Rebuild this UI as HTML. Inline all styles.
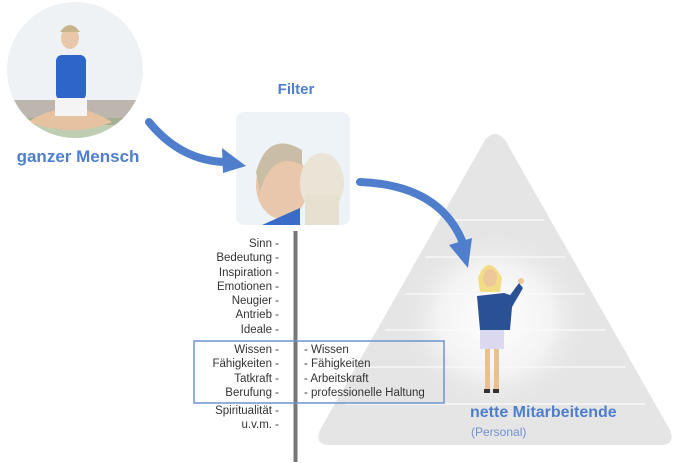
<!DOCTYPE html>
<html><head><meta charset="utf-8"><style>
body{margin:0;width:674px;height:463px;background:#fff;position:relative;overflow:hidden;font-family:"Liberation Sans",sans-serif}
.t{position:absolute;font-size:11.5px;color:#333;line-height:14.3px}
.l{right:395px;text-align:right;white-space:nowrap}
</style></head><body>
<svg width="674" height="463" style="position:absolute;left:0;top:0">
<defs>
<radialGradient id="g" cx="0.5" cy="0.5" r="0.5"><stop offset="0" stop-color="#fff"/><stop offset="0.6" stop-color="#f3f3f3"/><stop offset="1" stop-color="#e5e5e5" stop-opacity="0"/></radialGradient>
<clipPath id="cc"><circle cx="75" cy="70" r="68"/></clipPath>
<clipPath id="fc"><rect x="236" y="112" width="114" height="113" rx="8"/></clipPath>
</defs>
<path d="M485,140 Q495,128 505,140 L670,430 Q676,445 660,445 L330,445 Q314,445 320,430 Z" fill="#e5e5e5"/>
<ellipse cx="495" cy="320" rx="95" ry="90" fill="url(#g)"/>
<g stroke="#fafafa" stroke-width="1.2">
<line x1="455" y1="220" x2="544" y2="220"/><line x1="425" y1="257" x2="565" y2="257"/>
<line x1="405" y1="294" x2="585" y2="294"/><line x1="385" y1="330" x2="605" y2="330"/>
<line x1="365" y1="367" x2="625" y2="367"/><line x1="345" y1="404" x2="645" y2="404"/>
</g>
<!-- circle photo -->
<g clip-path="url(#cc)">
<rect x="0" y="0" width="150" height="140" fill="#eef2f5"/>
<rect x="0" y="100" width="150" height="25" fill="#8a7a6a" opacity="0.5"/>
<rect x="0" y="118" width="150" height="20" fill="#8fa870" opacity="0.5"/>
<ellipse cx="70" cy="38" rx="9" ry="11" fill="#e8c8a8"/><path d="M60,32 Q70,18 80,32" fill="#c8b48a"/>
<rect x="56" y="55" width="30" height="45" rx="6" fill="#2d65c8"/>
<path d="M28,122 Q70,95 112,122 Q75,138 28,122Z" fill="#e6c2a0"/>
<rect x="55" y="98" width="32" height="18" fill="#f4f4f4"/>
</g>
<!-- filter image -->
<g clip-path="url(#fc)">
<rect x="236" y="112" width="114" height="113" fill="#eef3f8"/>
<ellipse cx="282" cy="185" rx="26" ry="34" fill="#e9c7ad"/>
<path d="M256,172 Q268,130 302,150 L302,165 Q272,150 260,192Z" fill="#c9bda5"/>
<path d="M262,225 L300,208 L300,225Z" fill="#3a6bc8"/>
<ellipse cx="322" cy="183" rx="22" ry="30" fill="#e9e4d6"/>
<rect x="305" y="195" width="34" height="30" fill="#e6e0d0"/>
</g>
<!-- arrows -->
<path d="M149,122 Q180,160 224,162" fill="none" stroke="#4f7fcc" stroke-width="8" stroke-linecap="round"/>
<polygon points="222,148 246,166 223,173" fill="#4f7fcc"/>
<path d="M360,182 Q440,185 463,243" fill="none" stroke="#4f7fcc" stroke-width="8" stroke-linecap="round"/>
<polygon points="449,245 472,238 468,268" fill="#4f7fcc"/>
<!-- woman -->
<path d="M478,278 Q488,252 502,278 L500,292 L480,292Z" fill="#f3dc86"/>
<ellipse cx="490" cy="278" rx="7" ry="9" fill="#efc89a"/>
<path d="M477,296 L504,293 L513,296 L510,330 L480,330Z" fill="#2a5193"/>
<path d="M508,298 L519,283 L523,288 L512,307Z" fill="#2a5193"/>
<circle cx="521" cy="281" r="3" fill="#efc89a"/>
<rect x="480" y="330" width="24" height="19" fill="#dcd8ef"/>
<rect x="485" y="349" width="5" height="42" fill="#e9c08e"/><rect x="494" y="349" width="5" height="42" fill="#e9c08e"/>
<rect x="484" y="389" width="6" height="4" fill="#333"/><rect x="493" y="389" width="6" height="4" fill="#333"/>
<!-- vertical line -->
<rect x="293.5" y="231" width="4" height="231" fill="#777"/>
<rect x="194" y="341" width="250" height="62" fill="none" stroke="#6f93d2" stroke-width="1.5"/>
</svg>
<div style="position:absolute;left:0;width:156px;top:147px;text-align:center;color:#4f7fcc;font-weight:bold;font-size:17px">ganzer Mensch</div>
<div style="position:absolute;left:246px;width:100px;top:81px;text-align:center;color:#4f7fcc;font-weight:bold;font-size:15px">Filter</div>
<div style="position:absolute;left:470px;top:404px;color:#4f7fcc;font-weight:bold;font-size:16px">nette Mitarbeitende</div>
<div style="position:absolute;left:471px;top:425px;color:#6f93d2;font-size:12px">(Personal)</div>
<div class="t l" style="top:237px">Sinn -<br>Bedeutung -<br>Inspiration -<br>Emotionen -<br>Neugier -<br>Antrieb -<br>Ideale -</div>
<div class="t l" style="top:343px">Wissen -<br>Fähigkeiten -<br>Tatkraft -<br>Berufung -</div>
<div class="t l" style="top:404px">Spiritualität -<br>u.v.m. -</div>
<div class="t" style="left:304px;top:343px">- Wissen<br>- Fähigkeiten<br>- Arbeitskraft<br>- professionelle Haltung</div>
</body></html>
